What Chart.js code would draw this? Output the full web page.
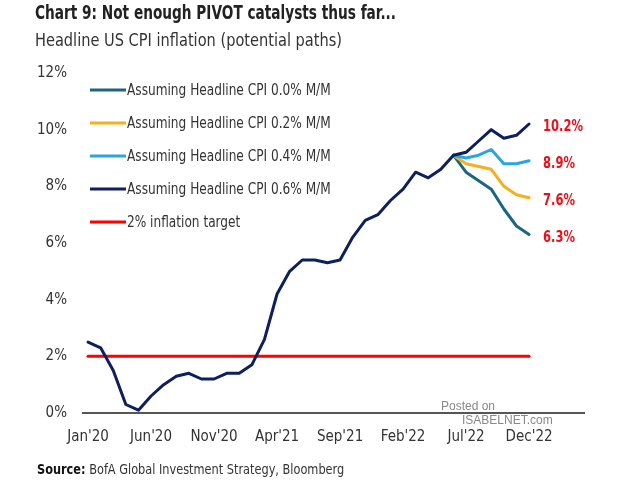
<!DOCTYPE html>
<html>
<head>
<meta charset="utf-8">
<script src="https://cdn.jsdelivr.net/npm/chart.js@4.4.1/dist/chart.umd.min.js"></script>
<style>
  body { margin: 0; background: #fff; }
  #wrap { position: relative; width: 621px; height: 482px; font-family: "DejaVu Sans Condensed", "Open Sans", sans-serif; }
  #c { position: absolute; left: 0; top: 0; }
  .txt { position: absolute; white-space: nowrap; color: #222; transform-origin: 0 0; }
  #title { left: 35px; top: 1px; font-size: 19px; font-weight: bold; transform: scaleX(0.8); }
  #subtitle { left: 35px; top: 29px; font-size: 18px; color: #333; transform: scaleX(0.9); }
  #source { left: 37px; top: 461px; font-size: 14px; color: #333; transform: scaleX(0.9); }
  #source b { color: #111; }
  .wm { color: #888; font-family: "Liberation Sans", Arial, sans-serif; font-size: 12px; }
</style>
</head>
<body>
<div id="wrap">
  <canvas id="c" width="621" height="482"></canvas>
  <div class="txt" id="title">Chart 9: Not enough PIVOT catalysts thus far...</div>
  <div class="txt" id="subtitle">Headline US CPI inflation (potential paths)</div>
  <div class="txt" id="source"><b>Source:</b> BofA Global Investment Strategy, Bloomberg</div>
  <div class="txt wm" style="left:441px; top:399px;">Posted on</div>
  <div class="txt wm" style="left:462px; top:413px;">ISABELNET.com</div>
</div>
<script>
const FONT = "'DejaVu Sans Condensed', 'Open Sans', sans-serif";

// Month index 0 = Jan'20 ... 35 = Dec'22
const tickPositions = [0, 5, 10, 15, 20, 25, 30, 35];
const tickLabels = ["Jan'20", "Jun'20", "Nov'20", "Apr'21", "Sep'21", "Feb'22", "Jul'22", "Dec'22"];

// Actual headline CPI y/y, Jan'20 - Jun'22
const history = [2.5, 2.3, 1.5, 0.3, 0.1, 0.6, 1.0, 1.3, 1.4, 1.2, 1.2, 1.4,
                 1.4, 1.7, 2.6, 4.2, 5.0, 5.4, 5.4, 5.3, 5.4, 6.2, 6.8, 7.0,
                 7.5, 7.9, 8.5, 8.3, 8.6, 9.1];

// Projected paths, Jun'22 - Dec'22
const pathStart = 29;
const path00 = [9.1, 8.5, 8.2, 7.9, 7.2, 6.6, 6.3];
const path02 = [9.1, 8.8, 8.7, 8.6, 8.0, 7.7, 7.6];
const path04 = [9.1, 9.0, 9.1, 9.3, 8.8, 8.8, 8.9];
const path06 = [9.1, 9.2, 9.6, 10.0, 9.7, 9.8, 10.2];

const target = 2;
const lastMonth = 35;

const toPoints = (arr, start) => arr.map((v, i) => ({ x: start + i, y: v }));

// Navy series = history followed by the 0.6% path
const navyData = toPoints(history, 0).concat(toPoints(path06.slice(1), pathStart + 1));

// Legend drawn inside the plot, top-left, one item per row
const insideLegend = {
    id: "insideLegend",
    afterDraw(chart) {
        const ctx = chart.ctx;
        const left = chart.chartArea.left + 8;
        let y = chart.chartArea.top + 17;
        ctx.save();
        ctx.textBaseline = "middle";
        chart.data.datasets.forEach((ds) => {
            ctx.strokeStyle = ds.borderColor;
            ctx.lineWidth = 3;
            ctx.beginPath();
            ctx.moveTo(left, y);
            ctx.lineTo(left + 36, y);
            ctx.stroke();
            ctx.save();
            ctx.translate(left + 37, y + 1);
            ctx.scale(0.9, 1);
            ctx.fillStyle = "#333";
            ctx.font = "15px " + FONT;
            ctx.fillText(ds.label, 0, 0);
            ctx.restore();
            y += 33;
        });
        ctx.restore();
    }
};

// Red end-of-line labels
const endLabels = {
    id: "endLabels",
    afterDatasetsDraw(chart) {
        const ctx = chart.ctx;
        const xs = chart.scales.x, ys = chart.scales.y;
        ctx.save();
        ctx.fillStyle = "#e8101a";
        ctx.textBaseline = "middle";
        ctx.font = "bold 16px " + FONT;
        chart.data.datasets.forEach((ds) => {
            if (!ds.endLabel) return;
            const last = ds.data[ds.data.length - 1];
            ctx.save();
            ctx.translate(xs.getPixelForValue(last.x) + 14, ys.getPixelForValue(last.y) + 3);
            ctx.scale(0.8, 1);
            ctx.fillText(last.y.toFixed(1) + "%", 0, 0);
            ctx.restore();
        });
        ctx.restore();
    }
};

new Chart(document.getElementById("c"), {
    type: "line",
    data: {
        datasets: [
            { label: "Assuming Headline CPI 0.0% M/M", data: toPoints(path00, pathStart), borderColor: "#1b6682", endLabel: true, order: 4 },
            { label: "Assuming Headline CPI 0.2% M/M", data: toPoints(path02, pathStart), borderColor: "#f6b01c", endLabel: true, order: 3 },
            { label: "Assuming Headline CPI 0.4% M/M", data: toPoints(path04, pathStart), borderColor: "#27a6e1", endLabel: true, order: 2 },
            { label: "Assuming Headline CPI 0.6% M/M", data: navyData, borderColor: "#0d1f5c", endLabel: true, order: 1 },
            { label: "2% inflation target", data: [{ x: 0, y: target }, { x: lastMonth, y: target }], borderColor: "#ff0000", order: 5 }
        ]
    },
    options: {
        responsive: false,
        animation: false,
        elements: {
            point: { radius: 0 },
            line: { borderWidth: 3, tension: 0, borderJoinStyle: "round", borderCapStyle: "round" }
        },
        layout: { padding: { left: 0, top: 73, right: 36, bottom: 0 } },
        plugins: {
            tooltip: { enabled: false },
            legend: { display: false }
        },
        scales: {
            x: {
                type: "linear",
                min: -0.48,
                max: 39.44,
                afterFit: (axis) => { axis.height = 69; },
                afterBuildTicks: (axis) => { axis.ticks = tickPositions.map((v) => ({ value: v })); },
                grid: { display: false, drawTicks: false },
                border: { display: false },
                ticks: {
                    padding: 15,
                    maxRotation: 0,
                    autoSkip: false,
                    color: "#333",
                    font: { family: FONT, size: 15 },
                    callback: (v) => tickLabels[tickPositions.indexOf(v)]
                }
            },
            y: {
                min: 0,
                max: 12,
                afterFit: (axis) => { axis.width = 82; },
                grid: {
                    drawTicks: false,
                    color: (c) => (c.tick.value === 0 ? "#555" : "transparent"),
                    lineWidth: 2
                },
                border: { display: false },
                ticks: {
                    stepSize: 2,
                    padding: 15,
                    color: "#333",
                    font: { family: FONT, size: 15 },
                    callback: (v) => v + "%"
                }
            }
        }
    },
    plugins: [insideLegend, endLabels]
});
</script>
</body>
</html>
